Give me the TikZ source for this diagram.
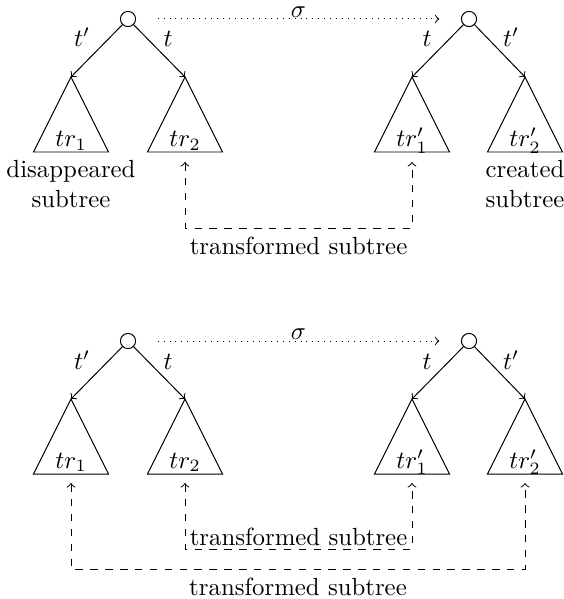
\documentclass[tikz,border=0pt]{standalone}
\begin{document}
\begin{tikzpicture}[x=0.4032pt,y=-0.4032pt,
  root/.style={draw,circle,minimum size=6.1pt,inner sep=0pt},
  lbl/.style={anchor=base,inner sep=0pt},
  edge/.style={->},
  sigarrow/.style={dotted,->,shorten <=8.7pt,shorten >=8.7pt},
  conn/.style={dashed,<->},
  note/.style={anchor=north,align=center}]
\useasboundingbox (0,0) rectangle (563,599);

% ---------- top diagram ----------
\node[root] (ra) at (128,19) {};
\node[root] (rb) at (469,19) {};
\coordinate (a1) at (71,77);
\coordinate (a2) at (185,77);
\coordinate (b1) at (412,77);
\coordinate (b2) at (525,77);
\foreach \c in {a1,a2,b1,b2}{\draw (\c) -- ++(-37.5,75) -- ++(75,0) -- cycle;}
\draw[edge] (ra) -- (a1);
\draw[edge] (ra) -- (a2);
\draw[edge] (rb) -- (b1);
\draw[edge] (rb) -- (b2);
\node[lbl] (ta1) at (82,47) {$t'$};
\node[lbl] (ta2) at (168,47) {$t$};
\node[lbl] (tb1) at (427,47) {$t$};
\node[lbl] (tb2) at (511,47) {$t'$};
\draw[sigarrow] (ra) -- node[above,inner sep=0.6pt] (sig) {$\sigma$} (rb);
\node[lbl] (tra1) at (71,147) {$tr_1$};
\node[lbl] (tra2) at (185,147) {$tr_2$};
\node[lbl] (trb1) at (412,147) {$tr'_1$};
\node[lbl] (trb2) at (525,147) {$tr'_2$};
\node[note] (dis) at (71,152) {disappeared\\subtree};
\node[note] (cre) at (525,152) {created\\subtree};
\coordinate (da2) at (185,162);
\coordinate (db1) at (412,162);
\draw[conn] (da2) -- ++(0,66) -| node[pos=0.25,below] (tf) {transformed subtree} (db1);

% ---------- bottom diagram ----------
\node[root] (rc) at (128,341) {};
\node[root] (rd) at (469,341) {};
\coordinate (c1) at (71,399);
\coordinate (c2) at (185,399);
\coordinate (d1) at (412,399);
\coordinate (d2) at (525,399);
\foreach \c in {c1,c2,d1,d2}{\draw (\c) -- ++(-37.5,75) -- ++(75,0) -- cycle;}
\draw[edge] (rc) -- (c1);
\draw[edge] (rc) -- (c2);
\draw[edge] (rd) -- (d1);
\draw[edge] (rd) -- (d2);
\node[lbl] (tc1) at (82,369) {$t'$};
\node[lbl] (tc2) at (168,369) {$t$};
\node[lbl] (td1) at (427,369) {$t$};
\node[lbl] (td2) at (511,369) {$t'$};
\draw[sigarrow] (rc) -- node[above,inner sep=0.6pt] (sig2) {$\sigma$} (rd);
\node[lbl] (trc1) at (71,468) {$tr_1$};
\node[lbl] (trc2) at (185,468) {$tr_2$};
\node[lbl] (trd1) at (412,468) {$tr'_1$};
\node[lbl] (trd2) at (525,468) {$tr'_2$};
\coordinate (dc1) at (71,483);
\coordinate (dc2) at (185,483);
\coordinate (dd1) at (412,483);
\coordinate (dd2) at (525,483);
\draw[conn] (dc2) -- ++(0,66) -| node[pos=0.25,above,inner sep=1pt] (tf2) {transformed subtree} (dd1);
\draw[conn] (dc1) -- ++(0,86) -| node[pos=0.25,below] (tf3) {transformed subtree} (dd2);
\end{tikzpicture}
\end{document}
